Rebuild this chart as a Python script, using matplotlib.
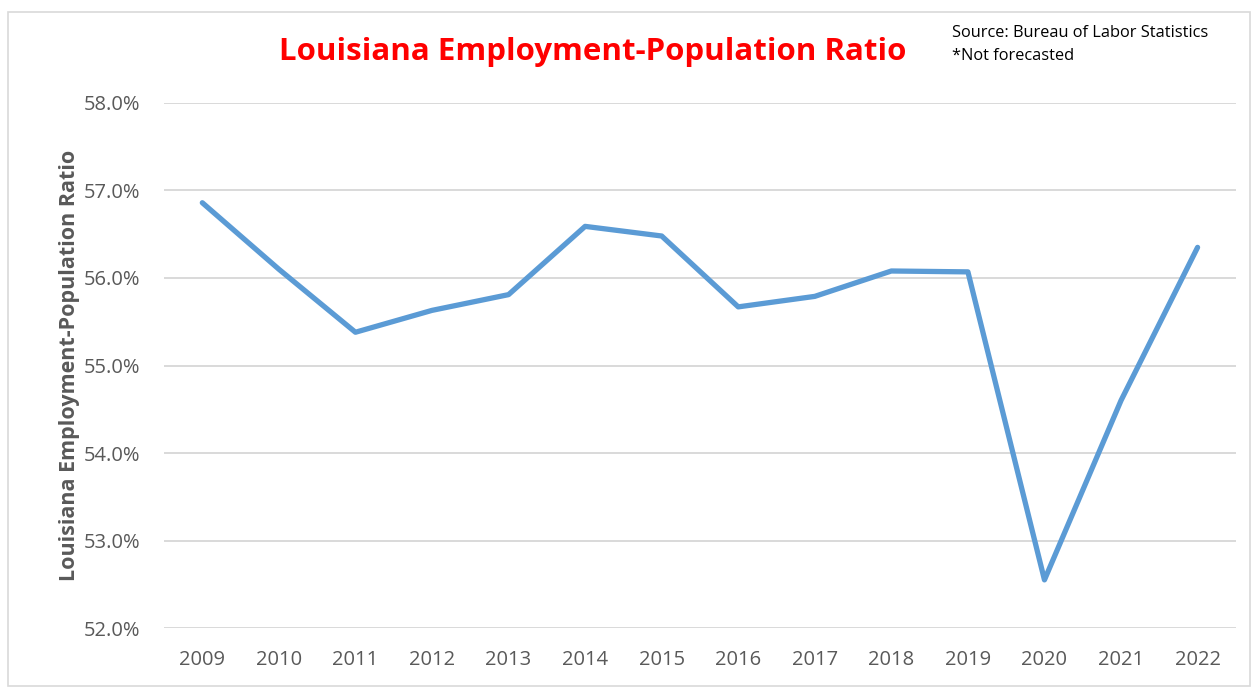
import matplotlib.pyplot as plt
from matplotlib.patches import Rectangle
from matplotlib.ticker import FuncFormatter

plt.rcParams['font.family'] = ['Open Sans', 'DejaVu Sans']

years = ['2009', '2010', '2011', '2012', '2013', '2014', '2015',
         '2016', '2017', '2018', '2019', '2020', '2021', '2022']
ratio = [56.86, 56.10, 55.38, 55.63, 55.81, 56.59, 56.48,
         55.67, 55.79, 56.08, 56.07, 52.55, 54.60, 56.35]
y_ticks = [52, 53, 54, 55, 56, 57, 58]

grey = '#595959'

fig = plt.figure(figsize=(12.58, 6.88), dpi=100)
ax = fig.add_axes([0.1304, 0.0872, 0.852, 0.7631])

ax.plot(range(len(years)), ratio, color='#5B9BD5', linewidth=3.8,
        solid_joinstyle='round', solid_capstyle='round', zorder=3)

ax.set_xlim(-0.5, len(years) - 0.5)
ax.set_ylim(52, 58)
ax.set_yticks(y_ticks)
ax.yaxis.set_major_formatter(FuncFormatter(lambda v, p: f'{v:.1f}%'))
ax.set_xticks(range(len(years)))
ax.set_xticklabels(years)
ax.grid(axis='y', color='#D9D9D9', linewidth=1.4)
ax.set_axisbelow(True)
for s in ax.spines.values():
    s.set_visible(False)
ax.tick_params(length=0, labelsize=14.5, labelcolor=grey)
ax.tick_params(axis='y', pad=17)
ax.tick_params(axis='x', pad=16)

ax.set_ylabel('Louisiana Employment-Population Ratio', fontsize=15.5,
              fontweight='bold', color=grey, labelpad=3)

fig.text(0.4714, 0.925, 'Louisiana Employment-Population Ratio', color='#FF0000',
         fontsize=22.5, fontweight='bold', ha='center', va='center')
fig.text(0.757, 0.952, 'Source: Bureau of Labor Statistics', fontsize=11.8,
         color='black', ha='left', va='center')
fig.text(0.757, 0.919, '*Not forecasted', fontsize=11.8,
         color='black', ha='left', va='center')

fig.patches.append(Rectangle((0.006, 0.003), 0.988, 0.98, transform=fig.transFigure,
                             fill=False, edgecolor='#D9D9D9', linewidth=1.2))

fig.savefig('out.png', dpi=100, facecolor='white')
